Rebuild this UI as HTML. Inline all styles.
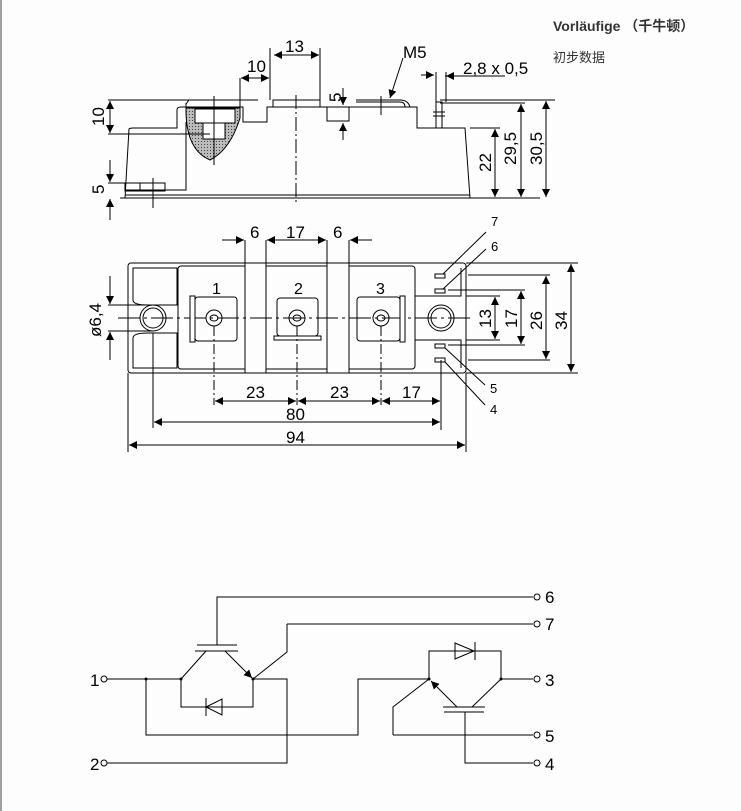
<!DOCTYPE html>
<html><head><meta charset="utf-8"><style>
html,body{margin:0;padding:0;background:#fdfdfd;}
body{width:741px;height:811px;overflow:hidden;position:relative;}
svg{position:absolute;left:0;top:0;}
.t{font-family:"Liberation Sans",Arial,sans-serif;font-size:17px;fill:#000;}
.s{font-family:"Liberation Sans",Arial,sans-serif;font-size:13px;fill:#000;}
</style></head><body>
<svg width="741" height="811" viewBox="0 0 741 811" xmlns="http://www.w3.org/2000/svg">
<defs>
<marker id="a" viewBox="0 0 10 10" refX="10" refY="5" markerWidth="10" markerHeight="8" markerUnits="userSpaceOnUse" orient="auto-start-reverse"><path d="M0,0L10,5L0,10z" fill="#000"/></marker>
<pattern id="dots" width="3" height="3" patternUnits="userSpaceOnUse"><rect width="3" height="3" fill="#bbb"/><rect width="1" height="1" fill="#444"/></pattern>
</defs>
<rect x="0" y="0" width="2" height="811" fill="#a0a0a0"/>
<text x="553" y="31" font-family="Liberation Sans,'Noto Sans CJK SC',sans-serif" font-size="14" font-weight="bold" fill="#333">Vorläufige （千牛顿）</text>
<text x="553" y="62" font-family="Liberation Sans,'Noto Sans CJK SC',sans-serif" font-size="13" fill="#333">初步数据</text>

<g stroke="#000" stroke-width="1" fill="none">
<!-- side view -->
<path d="M125,198 L129,129 Q130,128 133,128 L177,128 L177,110 Q177,107 181,107 L243,107 L243,122 L267,122 L267,107 L417,107 L417,128 L465,128 L470,198 Z" fill="#fdfdfd"/>
<line x1="125" y1="195" x2="470" y2="195"/>
<line x1="120" y1="198" x2="540" y2="198"/>
<path d="M186,122 L186,190 L125,190"/>
<rect x="125" y="183" width="40" height="8"/>
<line x1="140" y1="183" x2="140" y2="191"/>
<line x1="153" y1="178" x2="153" y2="208"/>
<path d="M186,104 L189,100 L258,100 M186,108 L186,103" />
<path d="M186,110 Q186,150 210,160 Q230,150 240,118 L240,108 L186,108 Z" fill="url(#dots)"/>
<rect x="195" y="109" width="40" height="14" fill="#fff"/>
<rect x="203" y="123" width="22" height="16" fill="#fff"/>
<line x1="214" y1="96" x2="214" y2="165"/>
<rect x="273" y="100" width="47" height="7"/>
<line x1="296" y1="95" x2="296" y2="205" stroke-dasharray="14,3,2,3"/>
<rect x="327" y="107" width="22" height="14"/>
<path d="M356,102 L400,102 Q405,102 405,107 M356,100 L400,100 Q408,100 410,107"/>
<line x1="381" y1="96" x2="381" y2="115"/>
<rect x="436" y="102" width="6" height="26"/>
<line x1="433" y1="112" x2="445" y2="112"/>
<line x1="433" y1="116" x2="445" y2="116"/>
<!-- side dims -->
<line x1="270" y1="48" x2="270" y2="100"/><line x1="320" y1="48" x2="320" y2="100"/>
<line x1="274" y1="55" x2="319" y2="55" marker-start="url(#a)" marker-end="url(#a)"/>
<line x1="240" y1="78" x2="240" y2="107"/>
<line x1="241" y1="78" x2="269" y2="78" marker-start="url(#a)" marker-end="url(#a)"/>
<line x1="343" y1="88" x2="343" y2="105" marker-end="url(#a)"/>
<line x1="343" y1="140" x2="343" y2="123" marker-end="url(#a)"/>
<line x1="340" y1="107" x2="360" y2="107"/>
<line x1="403" y1="58" x2="390" y2="98" marker-end="url(#a)"/>
<line x1="421" y1="75" x2="434" y2="75" marker-end="url(#a)"/>
<line x1="445" y1="76" x2="505" y2="76"/>
<line x1="457" y1="76" x2="446" y2="76" marker-end="url(#a)"/>
<line x1="436" y1="72" x2="436" y2="102"/><line x1="446" y1="72" x2="446" y2="102"/>
<line x1="108" y1="100" x2="190" y2="100"/>
<line x1="108" y1="134" x2="210" y2="134"/>
<line x1="110" y1="101" x2="110" y2="133" marker-start="url(#a)" marker-end="url(#a)"/>
<line x1="108" y1="183" x2="128" y2="183"/>
<line x1="110" y1="160" x2="110" y2="182" marker-end="url(#a)"/>
<line x1="110" y1="220" x2="110" y2="199" marker-end="url(#a)"/>
<line x1="470" y1="128" x2="500" y2="128"/>
<line x1="440" y1="103" x2="525" y2="103"/>
<line x1="440" y1="100" x2="555" y2="100"/>
<line x1="495" y1="129" x2="495" y2="197" marker-start="url(#a)" marker-end="url(#a)"/>
<line x1="521" y1="104" x2="521" y2="197" marker-start="url(#a)" marker-end="url(#a)"/>
<line x1="546" y1="101" x2="546" y2="197" marker-start="url(#a)" marker-end="url(#a)"/>

<!-- top view -->
<rect x="128" y="263" width="338" height="110" rx="3"/>
<path d="M133,268 L177,268 L177,305 L148,305 Q133,305 133,300 Z"/>
<path d="M133,368 L177,368 L177,333 L148,333 Q133,333 133,338 Z"/>
<rect x="178" y="266" width="237" height="103" rx="3"/>
<path d="M415,296 L461,296 L461,268 M415,340 L461,340 L461,368"/>
<rect x="245" y="263" width="21" height="110" fill="#fdfdfd"/>
<rect x="327" y="263" width="22" height="110" fill="#fdfdfd"/>
<line x1="118" y1="318" x2="470" y2="318" stroke-dasharray="22,4,3,4"/>
<circle cx="153" cy="318" r="13"/><circle cx="153" cy="318" r="10"/>
<circle cx="441" cy="318" r="13"/><circle cx="441" cy="318" r="10"/>
<rect x="190" y="296" width="5" height="46" fill="#fff"/>
<rect x="195" y="297" width="42" height="44" rx="3"/>
<circle cx="214" cy="318" r="8"/><ellipse cx="214" cy="318" rx="4" ry="3"/>
<rect x="277" y="298" width="41" height="38" rx="3"/>
<rect x="274" y="336" width="47" height="4" fill="#fff"/>
<circle cx="297" cy="318" r="8"/><ellipse cx="297" cy="318" rx="4" ry="3"/>
<rect x="357" y="297" width="43" height="44" rx="3"/>
<rect x="400" y="296" width="5" height="46" fill="#fff"/>
<circle cx="381" cy="318" r="8"/><ellipse cx="381" cy="318" rx="4" ry="3"/>
<rect x="435" y="274" width="10" height="4"/><rect x="435" y="289" width="10" height="4"/>
<rect x="435" y="344" width="10" height="4"/><rect x="435" y="358" width="10" height="4"/>
<line x1="443" y1="274" x2="486" y2="232"/>
<line x1="443" y1="289" x2="486" y2="249"/>
<line x1="445" y1="348" x2="485" y2="385"/>
<line x1="445" y1="362" x2="485" y2="405"/>
<line x1="214" y1="326" x2="214" y2="405" stroke-dasharray="10,3,2,3"/>
<line x1="297" y1="326" x2="297" y2="405" stroke-dasharray="10,3,2,3"/>
<line x1="381" y1="326" x2="381" y2="405" stroke-dasharray="10,3,2,3"/>
<line x1="441" y1="360" x2="441" y2="430"/>
<line x1="153" y1="333" x2="153" y2="428"/>
<line x1="128" y1="373" x2="128" y2="452"/>
<line x1="466" y1="373" x2="466" y2="452"/>
<line x1="245" y1="240" x2="245" y2="263"/><line x1="266" y1="240" x2="266" y2="263"/>
<line x1="327" y1="240" x2="327" y2="263"/><line x1="349" y1="240" x2="349" y2="263"/>
<line x1="222" y1="240" x2="244" y2="240" marker-end="url(#a)"/>
<line x1="267" y1="240" x2="326" y2="240" marker-start="url(#a)" marker-end="url(#a)"/>
<line x1="372" y1="240" x2="350" y2="240" marker-end="url(#a)"/>
<line x1="215" y1="401" x2="296" y2="401" marker-start="url(#a)" marker-end="url(#a)"/>
<line x1="298" y1="401" x2="380" y2="401" marker-start="url(#a)" marker-end="url(#a)"/>
<line x1="382" y1="401" x2="440" y2="401" marker-start="url(#a)" marker-end="url(#a)"/>
<line x1="154" y1="422" x2="440" y2="422" marker-start="url(#a)" marker-end="url(#a)"/>
<line x1="129" y1="445" x2="465" y2="445" marker-start="url(#a)" marker-end="url(#a)"/>
<line x1="110" y1="276" x2="110" y2="304" marker-end="url(#a)"/>
<line x1="110" y1="360" x2="110" y2="332" marker-end="url(#a)"/>
<line x1="108" y1="305" x2="153" y2="305"/><line x1="108" y1="331" x2="153" y2="331"/>
<line x1="466" y1="263" x2="578" y2="263"/><line x1="466" y1="373" x2="578" y2="373"/>
<line x1="468" y1="275" x2="550" y2="275"/><line x1="468" y1="360" x2="550" y2="360"/>
<line x1="448" y1="290" x2="525" y2="290"/><line x1="448" y1="345" x2="525" y2="345"/>
<line x1="466" y1="296" x2="500" y2="296"/><line x1="466" y1="340" x2="500" y2="340"/>
<line x1="495" y1="297" x2="495" y2="339" marker-start="url(#a)" marker-end="url(#a)"/>
<line x1="521" y1="291" x2="521" y2="344" marker-start="url(#a)" marker-end="url(#a)"/>
<line x1="546" y1="276" x2="546" y2="359" marker-start="url(#a)" marker-end="url(#a)"/>
<line x1="571" y1="264" x2="571" y2="372" marker-start="url(#a)" marker-end="url(#a)"/>

<!-- circuit -->
<path d="M217,645 L217,597 L533,597"/>
<path d="M287,624 L533,624 M287,624 L287,652 L253,679"/>
<line x1="197" y1="645" x2="237" y2="645"/>
<line x1="195" y1="651" x2="238" y2="651"/>
<line x1="206" y1="651" x2="181" y2="679"/>
<line x1="225" y1="651" x2="252" y2="678" marker-end="url(#a)"/>
<path d="M107,679 L181,679 M181,679 L181,707 L253,707 L253,679 L287,679 L287,763 L107,763"/>
<path d="M146,679 L146,735 L358,735 L358,679 L429,679"/>
<path d="M206,707 L222,699 L222,715 Z M206,698 L206,716"/>
<path d="M429,679 L429,651 L501,651 L501,679 L533,679"/>
<path d="M455,643 L474,651 L455,659 Z M475,642 L475,660"/>
<line x1="443" y1="707" x2="485" y2="707"/>
<line x1="444" y1="712" x2="484" y2="712"/>
<line x1="457" y1="707" x2="431" y2="681" marker-end="url(#a)"/>
<line x1="472" y1="707" x2="501" y2="679"/>
<path d="M393,735 L393,707 L429,679"/>
<path d="M393,735 L533,735"/>
<path d="M465,712 L465,763 L533,763"/>
<circle cx="104" cy="679" r="3"/><circle cx="104" cy="763" r="3"/>
<circle cx="537" cy="597" r="3"/><circle cx="537" cy="624" r="3"/>
<circle cx="537" cy="679" r="3"/><circle cx="537" cy="735" r="3"/><circle cx="537" cy="763" r="3"/>
</g>
<g fill="#000">
<circle cx="146" cy="679" r="1.5"/><circle cx="181" cy="679" r="1.5"/><circle cx="253" cy="679" r="1.5"/>
<circle cx="429" cy="679" r="1.5"/><circle cx="501" cy="679" r="1.5"/>
</g>

<text class="t" x="285" y="52">13</text>
<text class="t" x="247" y="72">10</text>
<text class="t" x="403" y="58">M5</text>
<text class="t" x="463" y="74">2,8 x 0,5</text>
<text class="t" transform="translate(341,102) rotate(-90)">5</text>
<text class="t" transform="translate(104,126) rotate(-90)">10</text>
<text class="t" transform="translate(104,194) rotate(-90)">5</text>
<text class="t" transform="translate(491,172) rotate(-90)">22</text>
<text class="t" transform="translate(516,165) rotate(-90)">29,5</text>
<text class="t" transform="translate(542,165) rotate(-90)">30,5</text>

<text class="t" x="250" y="238">6</text>
<text class="t" x="286" y="238">17</text>
<text class="t" x="333" y="238">6</text>
<text class="t" x="212" y="294" style="font-size:16px">1</text>
<text class="t" x="294" y="294" style="font-size:16px">2</text>
<text class="t" x="376" y="294" style="font-size:16px">3</text>
<text class="s" x="491" y="226">7</text>
<text class="s" x="491" y="251">6</text>
<text class="s" x="490" y="393">5</text>
<text class="s" x="490" y="414">4</text>
<text class="t" x="246" y="398">23</text>
<text class="t" x="330" y="398">23</text>
<text class="t" x="402" y="398">17</text>
<text class="t" x="286" y="420">80</text>
<text class="t" x="286" y="443">94</text>
<text class="t" transform="translate(101,337) rotate(-90)">ø6,4</text>
<text class="t" transform="translate(491,328) rotate(-90)">13</text>
<text class="t" transform="translate(517,328) rotate(-90)">17</text>
<text class="t" transform="translate(542,330) rotate(-90)">26</text>
<text class="t" transform="translate(567,330) rotate(-90)">34</text>

<text class="t" x="545" y="603">6</text>
<text class="t" x="545" y="630">7</text>
<text class="t" x="545" y="686">3</text>
<text class="t" x="545" y="742">5</text>
<text class="t" x="545" y="770">4</text>
<text class="t" x="90" y="686">1</text>
<text class="t" x="90" y="770">2</text>
</svg>
</body></html>
